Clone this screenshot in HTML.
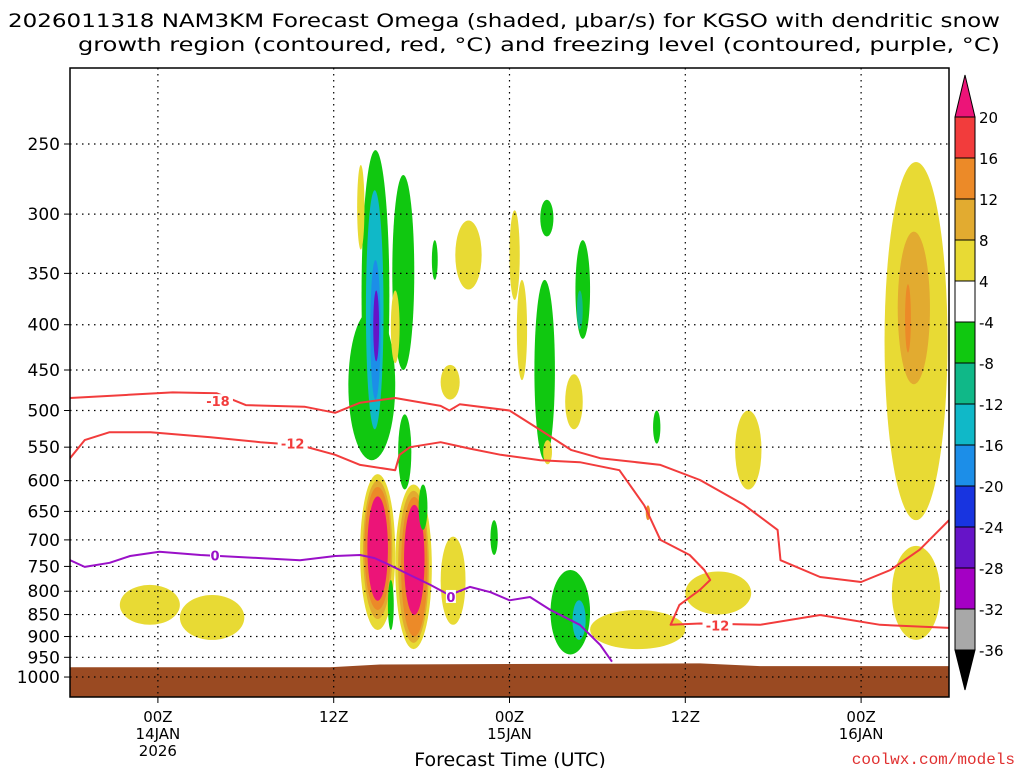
<!DOCTYPE html>
<html><head><meta charset="utf-8"><style>
html,body{margin:0;padding:0;background:#fff;}
svg{display:block;font-family:"DejaVu Sans","Liberation Sans",sans-serif;}
</style></head><body>
<svg id="chart" width="1024" height="768" viewBox="0 0 1024 768" xmlns="http://www.w3.org/2000/svg">
<text x="8" y="27" font-size="19" textLength="992" lengthAdjust="spacingAndGlyphs">2026011318 NAM3KM Forecast Omega (shaded, μbar/s) for KGSO with dendritic snow</text>
<text x="78" y="51" font-size="19" textLength="922" lengthAdjust="spacingAndGlyphs">growth region (contoured, red, °C) and freezing level (contoured, purple, °C)</text>
<defs><clipPath id="pc"><rect x="70" y="68" width="879" height="629"/></clipPath></defs>
<g id="plot" clip-path="url(#pc)"></g>
<rect x="70" y="68" width="879" height="629" fill="none" stroke="#000" stroke-width="1.5"/>
<g id="axes"></g>
<g id="cbar"></g>
<text x="510" y="766" font-size="19" text-anchor="middle">Forecast Time (UTC)</text>
<text x="1015" y="764" font-size="16" fill="#e03030" text-anchor="end" font-family="Liberation Mono, monospace">coolwx.com/models</text>
</svg>
<script>
const pLevels=[250,300,350,400,450,500,550,600,650,700,750,800,850,900,950,1000];
const xTickHours=[6,18,30,42,54];
const xTickLabels=[["00Z","14JAN","2026"],["12Z"],["00Z","15JAN"],["12Z"],["00Z","16JAN"]];
const cbLevels=[20,16,12,8,4,-4,-8,-12,-16,-20,-24,-28,-32,-36];
const cbColors=["#f23c3c","#ec8a28","#e2ab30","#e8da34","#ffffff","#10c810","#10b888","#10b8c8","#1c8ee8","#1834e0","#6614c8","#a400c4","#a8a8a8"];
const m18Hours=[0,4,7,10,12,16,18.1,19.8,22.2,25.3,25.9,26.6,30,32.1,34.2,36.2,40.3,43,46,48.3,48.5,51.2,54,56,58,60];
const m18Press=[484,480,477,478,493,495,503,490,484,494,500,492,500,526,554,566,576,599,639,682,738,771,781,757,718,665];
const m12Hours=[0,1,2.7,5.5,9.6,13,15.7,18.1,19.8,22.2,22.5,23.2,25.3,27.3,29.4,32.1,34.8,37.5,39.2,40.3,42.3,43.3,43.7,43,41.6,41,43,47.1,51.2,55.3,60];
const m12Press=[566,540,529,529,536,543,547,561,576,584,561,550,543,552,561,569,572,584,640,700,728,757,777,797,829,873,870,873,851,873,880];
const frzHours=[0,1,2.7,4.1,6.1,8.9,13,15.7,18.1,19.8,20.8,21.8,23.2,24.6,25.9,27.3,28.7,30,31.4,32.8,34.8,36.2,37];
const frzPress=[738,751,743,730,722,728,734,738,730,728,734,747,767,787,808,791,802,819,812,840,873,920,961];
const blobH0=[19.9,19.0,20.2,20.5,20.7,22.0,19.6,21.9,22.4,24.7,26.3,30.0,32.1,30.5,31.7,34.5,34.6,33.8,25.3,32.3,39.8,45.4,55.6,56.3,56.5,57.0,56.1,19.8,20.0,20.1,20.3,22.2,22.4,22.6,22.8,21.7,23.8,25.3,28.7,32.8,34.3,3.4,7.5,35.5,42.0,39.3];
const blobH1=[21.8,22.2,21.4,21.2,21.1,23.5,20.1,22.5,23.3,25.1,28.1,30.7,33.0,31.2,33.1,35.5,35.0,35.0,26.6,32.9,40.3,47.2,59.9,59.6,58.7,57.4,59.4,22.2,22.0,21.9,21.7,24.7,24.5,24.4,24.2,22.1,24.4,27.0,29.2,35.5,35.2,7.5,11.9,42.0,46.5,39.6];
const blobP0=[254,385,282,338,366,271,264,366,505,321,305,297,289,356,356,321,366,455,444,540,500,500,262,300,314,360,711,590,600,610,625,606,616,626,639,777,606,694,665,757,819,787,808,840,760,640];
const blobP1=[540,569,525,486,440,450,329,442,614,356,365,375,318,462,569,415,405,525,486,575,545,614,665,560,467,430,908,885,860,840,820,930,915,900,851,885,682,873,728,943,908,873,908,930,850,665];
const blobV=[-6,-6,-14,-18,-26,-6,5,5,-6,-6,5,5,-6,5,-6,-6,-10,5,5,5,-6,5,5,5,10,14,5,5,10,14,22,5,10,14,22,-6,-6,5,-6,-6,-14,5,5,5,5,16];

const NS="http://www.w3.org/2000/svg";
const X0=70,X1=949,HMAX=60,Y250=144,K=384.5;
function xs(h){return X0+(X1-X0)*h/HMAX;}
function ys(p){return Y250+K*Math.log(p/250);}
function el(t,a,parent){const e=document.createElementNS(NS,t);for(const k in a)e.setAttribute(k,a[k]);parent.appendChild(e);return e;}
function color(v){
  if(v>20)return "#ec1478";
  if(v<-36)return "#000";
  for(let i=0;i<cbLevels.length-1;i++){if(v<=cbLevels[i]&&v>cbLevels[i+1])return cbColors[i];}
  return "#fff";
}
const plot=document.getElementById('plot'),axes=document.getElementById('axes'),cbar=document.getElementById('cbar');
for(let i=0;i<blobV.length;i++){
  const x0=xs(blobH0[i]),x1=xs(blobH1[i]),y0=ys(blobP0[i]),y1=ys(blobP1[i]);
  const e=el('ellipse',{cx:(x0+x1)/2,cy:(y0+y1)/2,rx:(x1-x0)/2,ry:(y1-y0)/2,fill:color(blobV[i])},plot);
  
  
}
const g=el('path',{d:`M70 ${ys(975)} L330 ${ys(975)} L380 ${ys(968)} L700 ${ys(965)} L760 ${ys(972)} L949 ${ys(972)} L949 697 L70 697 Z`,fill:"#9a4a22"},plot);


pLevels.forEach(p=>{
  const y=ys(p);
  const l=el('line',{x1:X0,x2:X1,y1:y,y2:y,stroke:"#000","stroke-width":1.2,"stroke-dasharray":"1.5 4.5"},plot);
  
  
  const t=el('line',{x1:64,x2:70,y1:y,y2:y,stroke:"#000"},axes);
  
  
  const tx=el('text',{x:60,y:y+6,"font-size":17,"text-anchor":"end"},axes);tx.textContent=p;
  
  
});
xTickHours.forEach((h,i)=>{
  const x=xs(h);
  const l=el('line',{x1:x,x2:x,y1:68,y2:697,stroke:"#000","stroke-width":1.2,"stroke-dasharray":"1.5 4.5"},plot);
  
  
  const t=el('line',{x1:x,x2:x,y1:697,y2:703,stroke:"#000"},axes);
  
  
  xTickLabels[i].forEach((s,j)=>{
    const tx=el('text',{x:x,y:722+j*17,"font-size":15,"text-anchor":"middle"},axes);tx.textContent=s;
    
    
  });
});
function line(hs,ps,col,name){
  const d=hs.map((h,i)=>(i?'L':'M')+xs(h).toFixed(1)+' '+ys(ps[i]).toFixed(1)).join(' ');
  const e=el('path',{d:d,fill:"none",stroke:col,"stroke-width":2,"stroke-linejoin":"round"},plot);
  
  
}
line(m18Hours,m18Press,"#f23c3c","contour-minus18");
line(m12Hours,m12Press,"#f23c3c","contour-minus12");
line(frzHours,frzPress,"#9a10c8","freezing-level-0c");
function lab(h,p,s,col,name){
  const x=xs(h),y=ys(p);
  el('rect',{x:x-s.length*5,y:y-7,width:s.length*10,height:13,fill:"#fff"},plot);
  const t=el('text',{x:x,y:y+5,"font-size":13,"font-weight":"bold","text-anchor":"middle",fill:col},plot);t.textContent=s;
  
  
}
lab(10.1,488,"-18","#f23c3c","label-minus18");
lab(15.2,545,"-12","#f23c3c","label-minus12a");
lab(44.2,875,"-12","#f23c3c","label-minus12b");
lab(9.9,729,"0","#9a10c8","label-zero-a");
lab(26.0,812,"0","#9a10c8","label-zero-b");
const cbX=955,cbW=20,cbTop=117,cbStep=41;
el('polygon',{points:`${cbX},${cbTop} ${cbX+cbW},${cbTop} ${cbX+cbW/2},75`,fill:"#ec1478",stroke:"#000"},cbar);
for(let i=0;i<cbColors.length;i++){
  const r=el('rect',{x:cbX,y:cbTop+i*cbStep,width:cbW,height:cbStep,fill:cbColors[i],stroke:"#000"},cbar);
  
  
}
const cbBot=cbTop+cbColors.length*cbStep;
el('polygon',{points:`${cbX},${cbBot} ${cbX+cbW},${cbBot} ${cbX+cbW/2},690`,fill:"#000",stroke:"#000"},cbar);
cbLevels.forEach((v,i)=>{
  const t=el('text',{x:979,y:cbTop+i*cbStep+6,"font-size":15},cbar);t.textContent=v;
  
  
});
</script>
</body></html>
